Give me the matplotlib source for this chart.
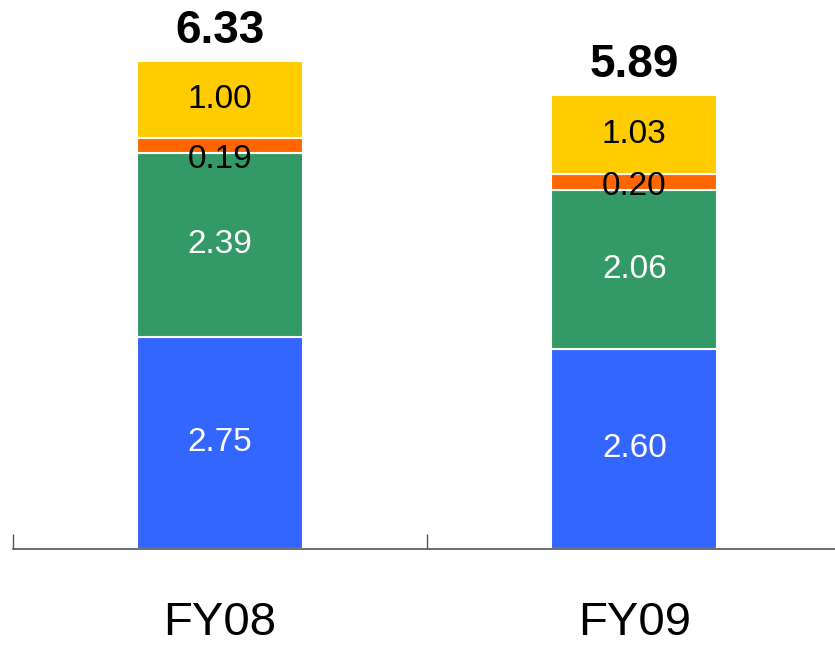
import matplotlib
matplotlib.use("Agg")
import matplotlib.pyplot as plt
import matplotlib.transforms as mtransforms
import numpy as np

categories = ["FY08", "FY09"]
blue_vals = [2.75, 2.60]
green_vals = [2.39, 2.06]
orange_vals = [0.19, 0.20]
yellow_vals = [1.00, 1.03]
totals = [6.33, 5.89]

series = [blue_vals, green_vals, orange_vals, yellow_vals]
colors = ["#3366FF", "#339966", "#FF6600", "#FFCC00"]
text_colors = ["white", "white", "black", "black"]
# vertical nudges (points) for label of thin orange segment per bar
orange_nudge = [-10, -3]

plt.rcParams['font.family'] = ['Liberation Sans', 'DejaVu Sans']

fig = plt.figure(figsize=(8.35, 6.47), dpi=100)
ax = fig.add_axes([0.015, 0.1515, 0.9928, 0.8485])

x = np.arange(len(categories))
bottom = np.zeros(len(categories))
for si, (vals, col, tcol) in enumerate(zip(series, colors, text_colors)):
    vals = np.array(vals)
    ax.bar(x, vals, width=0.4, bottom=bottom, color=col,
           edgecolor="white", linewidth=1.5, zorder=2)
    for i in range(len(x)):
        yc = bottom[i] + vals[i] / 2
        dy = orange_nudge[i] if si == 2 else 0
        ax.annotate(f"{vals[i]:.2f}", (x[i], yc), xytext=(0, dy),
                    textcoords="offset points", ha="center", va="center",
                    fontsize=24, color=tcol, zorder=3)
    bottom = bottom + vals

for i in range(len(x)):
    ax.annotate(f"{totals[i]:.2f}", (x[i], bottom[i]), xytext=(0, 6),
                textcoords="offset points", ha="center", va="bottom",
                fontsize=33, fontweight="bold", color="black")

ax.set_xlim(-0.5, 1.5)
ax.set_ylim(0, 7.12)

for s in ["top", "right", "left"]:
    ax.spines[s].set_visible(False)
ax.spines["bottom"].set_color("#555555")
ax.spines["bottom"].set_linewidth(1.2)
ax.set_yticks([])
ax.set_xticks([-0.5, 0.5, 1.5])
ax.set_xticklabels([])
ax.tick_params(axis="x", direction="in", length=11, width=1.0, color="#555555")

trans = mtransforms.blended_transform_factory(ax.transData, ax.transAxes)
for i, c in enumerate(categories):
    ax.text(x[i], -0.157, c, transform=trans, ha="center", va="baseline",
            fontsize=34, color="black")

fig.savefig("out.png", dpi=100)
